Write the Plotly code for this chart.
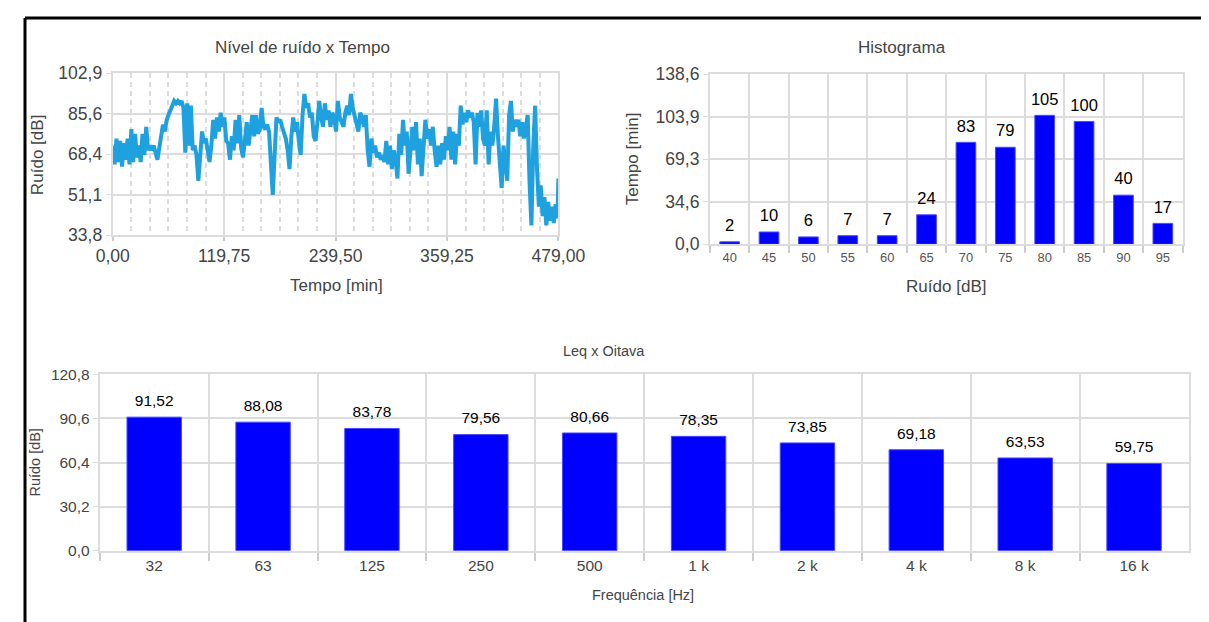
import plotly.graph_objects as go

# The page is photographed with the plot div shown at a slight offset and scale;
# layout positions below are given in the reference picture's pixels and mapped back.
SCALE = 0.967
OX, OY = 24.0, 16.0
W, H = 1226, 628

# ---------------- data ----------------
# Noise level over time (every 2 min, last at 479)
time_min = list(range(0, 479, 2)) + [479]
noise_db = [
    72, 64, 75, 65, 74, 63, 73, 66, 75, 64,
    79, 65, 77, 67, 72, 65, 77, 68, 80, 70,
    72, 70, 72, 69, 66, 71, 76, 81, 78, 83,
    85, 87, 89, 91, 90, 91, 90, 91, 88, 69,
    90, 72, 89, 70, 72, 68, 57, 70, 78, 73,
    75, 70, 65, 72, 83, 75, 84, 78, 86, 80,
    84, 74, 73, 66, 76, 70, 83, 73, 85, 71,
    67, 74, 82, 72, 80, 85, 76, 85, 77, 79,
    88, 80, 79, 81, 78, 62, 51, 68, 84, 82,
    83, 80, 78, 75, 70, 62, 76, 84, 78, 82,
    74, 68, 85, 94, 88, 90, 84, 86, 76, 74,
    82, 91, 84, 80, 90, 83, 87, 80, 86, 84,
    78, 91, 84, 82, 80, 86, 89, 85, 94, 88,
    84, 80, 78, 86, 84, 80, 85, 70, 63, 75,
    69, 72, 67, 69, 66, 68, 65, 74, 64, 72,
    62, 70, 66, 58, 77, 68, 83, 72, 78, 60,
    72, 80, 70, 82, 64, 75, 59, 70, 83, 75,
    79, 72, 80, 70, 63, 72, 64, 73, 66, 76,
    70, 80, 66, 78, 64, 77, 72, 89, 81, 86,
    82, 87, 84, 86, 82, 64, 86, 80, 87, 75,
    72, 87, 64, 78, 72, 80, 92, 76, 66, 54,
    72, 64, 57, 85, 91, 78, 83, 80, 83, 76,
    82, 75, 81, 85, 56, 38, 72, 89, 62, 46,
    55, 42, 50, 38, 48, 40, 46, 39, 47, 41, 58,
]
line_y_ticks = [33.8, 51.075, 68.35, 85.625, 102.9]
line_y_labels = ["33,8", "51,1", "68,4", "85,6", "102,9"]
line_x_ticks = [0, 119.75, 239.5, 359.25, 479]
line_x_labels = ["0,00", "119,75", "239,50", "359,25", "479,00"]

# Histogram
hist_bins = ["40", "45", "50", "55", "60", "65", "70", "75", "80", "85", "90", "95"]
hist_minutes = [2, 10, 6, 7, 7, 24, 83, 79, 105, 100, 40, 17]
hist_y_ticks = [0, 34.65, 69.3, 103.95, 138.6]
hist_y_labels = ["0,0", "34,6", "69,3", "103,9", "138,6"]

# Leq per octave band
octave_bands = ["32", "63", "125", "250", "500", "1 k", "2 k", "4 k", "8 k", "16 k"]
octave_leq = [91.52, 88.08, 83.78, 79.56, 80.66, 78.35, 73.85, 69.18, 63.53, 59.75]
oct_y_ticks = [0, 30.2, 60.4, 90.6, 120.8]
oct_y_labels = ["0,0", "30,2", "60,4", "90,6", "120,8"]

# ---------------- helpers ----------------
FONT = "Liberation Sans, Arial, sans-serif"
GRID = "#dcdcdc"
TXT = "#444444"
BLUE = "#0000FF"


def px(x):
    return min(max((x - OX) / SCALE / W, 0), 1)


def py(y):
    return min(max(1 - (y - OY) / SCALE / H, 0), 1)


def fs(size):
    return size / SCALE


fig = go.Figure()

fig.add_trace(go.Scatter(
    x=time_min, y=noise_db, mode="lines",
    line=dict(color="#1FA0DF", width=4),
    xaxis="x", yaxis="y", showlegend=False,
))

fig.add_trace(go.Bar(
    x=hist_bins, y=hist_minutes,
    marker=dict(color=BLUE, line=dict(color="#4a4aff", width=1)),
    xaxis="x2", yaxis="y2", showlegend=False,
))
fig.add_trace(go.Scatter(
    x=hist_bins, y=hist_minutes, mode="markers+text",
    text=[str(v) for v in hist_minutes], textposition="top center",
    textfont=dict(color="black", size=fs(16), family=FONT),
    marker=dict(size=9, color="rgba(0,0,0,0)"), cliponaxis=False,
    xaxis="x2", yaxis="y2", showlegend=False, hoverinfo="skip",
))

fig.add_trace(go.Bar(
    x=octave_bands, y=octave_leq,
    marker=dict(color=BLUE, line=dict(color="#4a4aff", width=1)),
    xaxis="x3", yaxis="y3", showlegend=False,
))
fig.add_trace(go.Scatter(
    x=octave_bands, y=octave_leq, mode="markers+text",
    text=[f"{v:.2f}".replace(".", ",") for v in octave_leq], textposition="top center",
    textfont=dict(color="black", size=fs(15), family=FONT),
    marker=dict(size=10, color="rgba(0,0,0,0)"), cliponaxis=False,
    xaxis="x3", yaxis="y3", showlegend=False, hoverinfo="skip",
))

minor_vals = [479 / 24 * k for k in range(1, 24) if k % 6 != 0]

axis_common = dict(showline=True, mirror=True, linecolor=GRID, linewidth=2,
                   gridcolor=GRID, gridwidth=2, zeroline=False, fixedrange=True)

fig.update_layout(
    width=W, height=H,
    margin=dict(l=0, r=0, t=0, b=0),
    paper_bgcolor="white", plot_bgcolor="white",
    font=dict(family=FONT, color=TXT),
    bargap=0.5,
    xaxis=dict(domain=[px(112), px(559)], range=[0, 479], anchor="y",
               tickmode="array", tickvals=line_x_ticks, ticktext=line_x_labels,
               ticks="outside", ticklen=4, tickcolor="#cccccc", tickwidth=2,
               tickfont=dict(size=fs(17), color=TXT),
               minor=dict(tickvals=minor_vals, showgrid=True, gridcolor=GRID,
                          griddash="5px,4px", gridwidth=1.5, ticks=""),
               **axis_common),
    yaxis=dict(domain=[py(233), py(71)], range=[33.8, 102.9], anchor="x",
               tickmode="array", tickvals=line_y_ticks, ticktext=line_y_labels,
               ticks="outside", ticklen=5, tickcolor=GRID,
               tickfont=dict(size=fs(17), color=TXT), **axis_common),
    xaxis2=dict(domain=[px(711), px(1185)], anchor="y2", type="category",
                categoryorder="array", categoryarray=hist_bins,
                range=[-0.5, len(hist_bins) - 0.5],
                tickson="boundaries", ticks="outside", ticklen=7, tickcolor="#cccccc",
                tickwidth=2, tickfont=dict(size=fs(12.5), color="#555555"), **axis_common),
    yaxis2=dict(domain=[py(242), py(72)], range=[0, 138.6], anchor="x2",
                tickmode="array", tickvals=hist_y_ticks, ticktext=hist_y_labels,
                ticks="outside", ticklen=5, tickcolor=GRID,
                tickfont=dict(size=fs(17), color=TXT), **axis_common),
    xaxis3=dict(domain=[px(99), px(1191)], anchor="y3", type="category",
                categoryorder="array", categoryarray=octave_bands,
                range=[-0.5, len(octave_bands) - 0.5],
                tickson="boundaries", ticks="outside", ticklen=8, tickcolor="#cccccc",
                tickwidth=2, tickfont=dict(size=fs(15), color=TXT), **axis_common),
    yaxis3=dict(domain=[py(548), py(372)], range=[0, 120.8], anchor="x3",
                tickmode="array", tickvals=oct_y_ticks, ticktext=oct_y_labels,
                ticks="outside", ticklen=5, tickcolor=GRID,
                tickfont=dict(size=fs(15), color=TXT), **axis_common),
)

annotations = [
    ("Nível de ruído x Tempo", 302, 45, 16.5, 0),
    ("Tempo [min]", 336, 283, 16.5, 0),
    ("Ruído [dB]", 36, 152, 16.5, -90),
    ("Histograma", 904, 45, 16.5, 0),
    ("Ruído [dB]", 948, 284, 16.5, 0),
    ("Tempo [min]", 633, 157, 16.5, -90),
    ("Leq x Oitava", 605, 349, 14, 0),
    ("Frequência [Hz]", 644, 592, 14, 0),
    ("Ruído [dB]", 34, 460, 14, -90),
]
for text, x, y, size, ang in annotations:
    fig.add_annotation(text=text, x=px(x), y=py(y), xref="paper", yref="paper",
                       xanchor="center", yanchor="middle", showarrow=False,
                       textangle=ang, font=dict(size=fs(size), color=TXT, family=FONT))

# outer frame (top and left edges only)
fig.add_shape(type="line", xref="paper", yref="paper", x0=0, x1=1, y0=1, y1=1,
              line=dict(color="black", width=3))
fig.add_shape(type="line", xref="paper", yref="paper", x0=0, x1=0, y0=1, y1=0,
              line=dict(color="black", width=3))

fig.write_html("out.html")
